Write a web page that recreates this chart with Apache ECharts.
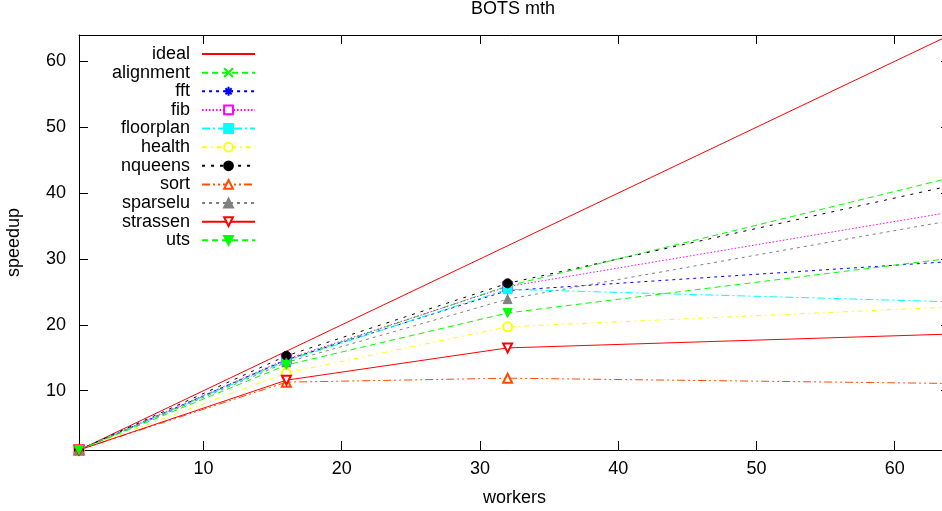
<!DOCTYPE html>
<html>
<head>
<meta charset="utf-8">
<script src="https://cdn.jsdelivr.net/npm/echarts@6/dist/echarts.min.js"></script>
<style>
html, body { margin: 0; padding: 0; background: #fff; }
#chart { width: 942px; height: 511px; }
</style>
</head>
<body>
<div id="chart"></div>
<script>
// 数据
const workers = [1, 16, 32, 64];
const tickValues = [10, 20, 30, 40, 50, 60];
const names = ['ideal', 'alignment', 'fft', 'fib', 'floorplan', 'health', 'nqueens', 'sort', 'sparselu', 'strassen', 'uts'];
const ideal = [1, 16, 32, 64];
const alignment = [1, 14.6, 25.9, 42.3];
const fft = [1, 14.7, 25.2, 29.6];
const fib = [1, 14.8, 25.8, 37.1];
const floorplan = [1, 14.5, 25.4, 23.5];
const health = [1, 12.7, 19.7, 22.7];
const nqueens = [1, 15.3, 26.3, 41.1];
const sort = [1, 11.3, 11.9, 11.1];
const sparselu = [1, 14.3, 23.9, 35.8];
const strassen = [1, 11.6, 16.5, 18.6];
const uts = [1, 13.9, 21.8, 30.1];

const FONT = 'Liberation Sans';
const CROSS = 'path://M0,0L10,10M10,0L0,10';
const STAR = 'path://M5,0L5,10M0,5L10,5M1.5,1.5L8.5,8.5M8.5,1.5L1.5,8.5';

// 系列样式
const styles = [
    { data: ideal, color: '#ff0000', dash: 'solid', symbol: 'none', hide: true },
    { data: alignment, color: '#00ff00', dash: [6, 4], symbol: CROSS, open: true },
    { data: fft, color: '#0000ff', dash: [3, 4], symbol: STAR, open: true },
    { data: fib, color: '#ff00ff', dash: [1.5, 2], symbol: 'emptyRect' },
    { data: floorplan, color: '#00ffff', dash: [8, 3, 2, 3], symbol: 'rect' },
    { data: health, color: '#ffff00', dash: [5, 4, 1.5, 4], symbol: 'emptyCircle' },
    { data: nqueens, color: '#000000', dash: [3, 6], symbol: 'circle' },
    { data: sort, color: '#ff4d00', dash: [8, 3, 2, 3, 2, 3], symbol: 'emptyTriangle' },
    { data: sparselu, color: '#808080', dash: [3, 4], symbol: 'triangle' },
    { data: strassen, color: '#ff0000', dash: 'solid', symbol: 'emptyTriangle', rotate: 180 },
    { data: uts, color: '#00ff00', dash: [6, 4], symbol: 'triangle', rotate: 180 }
];

const series = styles.map(function (s, i) {
    let item;
    if (s.hide) {
        item = { color: 'rgba(0,0,0,0)', borderWidth: 0 };
    } else if (s.open) {
        item = { color: 'rgba(0,0,0,0)', borderColor: s.color, borderWidth: 1 };
    } else {
        item = { color: s.color, borderColor: s.color, borderWidth: 1 };
    }
    return {
        name: names[i],
        type: 'line',
        data: workers.map(function (w, j) { return [w, s.data[j]]; }),
        symbol: s.symbol,
        symbolSize: 9,
        symbolRotate: s.rotate || 0,
        showSymbol: s.symbol !== 'none',
        lineStyle: { color: s.color, width: 1, type: s.dash },
        itemStyle: item,
        emphasis: { disabled: true },
        animation: false
    };
});

const chart = echarts.init(document.getElementById('chart'));
chart.setOption({
    backgroundColor: '#fff',
    animation: false,
    title: {
        text: 'BOTS mth',
        left: 513,
        top: 0,
        textAlign: 'center',
        padding: 0,
        textStyle: { fontFamily: FONT, fontSize: 18, fontWeight: 'normal', color: '#000' }
    },
    legend: {
        orient: 'vertical',
        align: 'right',
        left: 112,
        top: 45,
        itemWidth: 53,
        itemHeight: 11,
        itemGap: 0.63,
        padding: 0,
        selectedMode: false,
        textStyle: { fontFamily: FONT, fontSize: 18, color: '#000', lineHeight: 14, padding: [0, 7, 0, 0] },
        data: names
    },
    grid: { left: 79, top: 35, width: 871, height: 415, outerBoundsMode: 'none', containLabel: false },
    xAxis: [{
        type: 'value',
        min: 1,
        max: 64,
        name: 'workers',
        nameLocation: 'middle',
        nameGap: 39,
        nameTextStyle: { fontFamily: FONT, fontSize: 18, color: '#000' },
        axisLine: { show: true, lineStyle: { color: '#000', width: 1 } },
        axisTick: { show: true, inside: true, length: 9, customValues: tickValues, lineStyle: { color: '#000' } },
        axisLabel: { customValues: tickValues, margin: 10, fontFamily: FONT, fontSize: 18, color: '#000' },
        splitLine: { show: false }
    }, {
        type: 'value',
        min: 1,
        max: 64,
        position: 'top',
        axisLine: { show: true, onZero: false, lineStyle: { color: '#000', width: 1 } },
        axisTick: { show: true, inside: true, length: 9, customValues: tickValues, lineStyle: { color: '#000' } },
        axisLabel: { show: false },
        splitLine: { show: false }
    }],
    yAxis: [{
        type: 'value',
        min: 1,
        max: 64,
        name: 'speedup',
        nameLocation: 'middle',
        nameGap: 56,
        nameTextStyle: { fontFamily: FONT, fontSize: 18, color: '#000' },
        axisLine: { show: true, lineStyle: { color: '#000', width: 1 } },
        axisTick: { show: true, inside: true, length: 9, customValues: tickValues, lineStyle: { color: '#000' } },
        axisLabel: { customValues: tickValues, margin: 13, fontFamily: FONT, fontSize: 18, color: '#000' },
        splitLine: { show: false }
    }, {
        type: 'value',
        min: 1,
        max: 64,
        position: 'right',
        axisLine: { show: true, onZero: false, lineStyle: { color: '#000', width: 1 } },
        axisTick: { show: true, inside: true, length: 9, customValues: tickValues, lineStyle: { color: '#000' } },
        axisLabel: { show: false },
        splitLine: { show: false }
    }],
    series: series
});
</script>
</body>
</html>
